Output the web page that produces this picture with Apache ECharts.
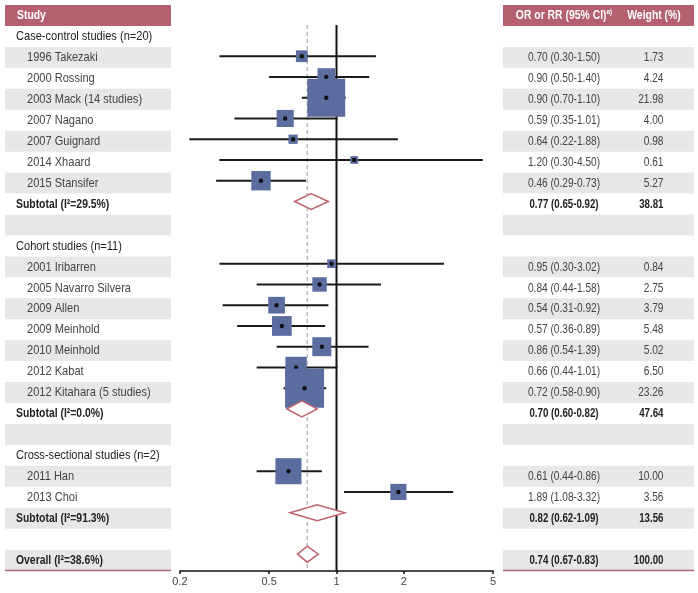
<!DOCTYPE html>
<html><head><meta charset="utf-8">
<script src="https://cdn.jsdelivr.net/npm/echarts@6/dist/echarts.min.js"></script>
<style>html,body{margin:0;padding:0;background:#fff}#c{width:698px;height:593px}</style>
</head><body><div id="c"></div>
<script>
// ---------- data ----------
const headers = ['Study', 'OR or RR (95% CI)', 'a)', 'Weight (%)'];
const rowLabels = ['Case-control studies (n=20)', '1996 Takezaki', '2000 Rossing', '2003 Mack (14 studies)', '2007 Nagano', '2007 Guignard', '2014 Xhaard', '2015 Stansifer', 'Subtotal (I\u00b2=29.5%)', '',
  'Cohort studies (n=11)', '2001 Iribarren', '2005 Navarro Silvera', '2009 Allen', '2009 Meinhold', '2010 Meinhold', '2012 Kabat', '2012 Kitahara (5 studies)', 'Subtotal (I\u00b2=0.0%)', '',
  'Cross-sectional studies (n=2)', '2011 Han', '2013 Choi', 'Subtotal (I\u00b2=91.3%)', '', 'Overall (I\u00b2=38.6%)'];
const rowKinds = ['group', 'study', 'study', 'study', 'study', 'study', 'study', 'study', 'subtotal', 'blank',
  'group', 'study', 'study', 'study', 'study', 'study', 'study', 'study', 'subtotal', 'blank',
  'group', 'study', 'study', 'subtotal', 'blank', 'overall'];
const estimates = [null, 0.70, 0.90, 0.90, 0.59, 0.64, 1.20, 0.46, 0.77, null,
  null, 0.95, 0.84, 0.54, 0.57, 0.86, 0.66, 0.72, 0.70, null,
  null, 0.61, 1.89, 0.82, null, 0.74];
const lowerCI = [null, 0.30, 0.50, 0.70, 0.35, 0.22, 0.30, 0.29, 0.65, null,
  null, 0.30, 0.44, 0.31, 0.36, 0.54, 0.44, 0.58, 0.60, null,
  null, 0.44, 1.08, 0.62, null, 0.67];
const upperCI = [null, 1.50, 1.40, 1.10, 1.01, 1.88, 4.50, 0.73, 0.92, null,
  null, 3.02, 1.58, 0.92, 0.89, 1.39, 1.01, 0.90, 0.82, null,
  null, 0.86, 3.32, 1.09, null, 0.83];
const weights = [null, 1.73, 4.24, 21.98, 4.00, 0.98, 0.61, 5.27, 38.81, null,
  null, 0.84, 2.75, 3.79, 5.48, 5.02, 6.50, 23.26, 47.64, null,
  null, 10.00, 3.56, 13.56, null, 100.00];
const xTicks = [0.2, 0.5, 1, 2, 5];
const nullValue = 1;

// ---------- styling ----------
const FONT = "'Liberation Sans', Arial, sans-serif";
const HEAD = '#b4606f', BAND = '#e7e7e9', SQ = '#5a6d9e', DIA = '#c0636f';
const nRows = rowLabels.length;

const tableData = [[-1]].concat(rowLabels.map((l, i) => [i]));
const forestData = [];
estimates.forEach((e, i) => {
  if (e != null) forestData.push([e, i, lowerCI[i], upperCI[i], weights[i], rowKinds[i] === 'study' ? 0 : 1]);
});
const refData = [[nullValue, 0], [estimates[nRows - 1], 1]];

function bandRect(api, r, color) {
  const a = api.coord([0, r - 0.5]), b = api.coord([1, r + 0.5]);
  return { type: 'rect', shape: { x: a[0], y: a[1], width: b[0] - a[0], height: b[1] - a[1] }, style: { fill: color } };
}
function txt(x, y, text, sx, opt) {
  return { type: 'text', x: x, y: y, scaleX: sx, style: Object.assign({ text: text, font: '13.5px ' + FONT, fill: '#333', verticalAlign: 'middle', align: 'left' }, opt || {}) };
}

function renderLeft(params, api) {
  const r = api.value(0);
  const ch = [];
  const a = api.coord([0, r]);
  if (r < 0) {
    ch.push(bandRect(api, r, HEAD));
    ch.push(txt(a[0] + 12, a[1], headers[0], 0.8, { fill: '#fff', font: 'bold 13px ' + FONT }));
  } else {
    const k = rowKinds[r];
    if (r % 2 === 1) ch.push(bandRect(api, r, BAND));
    if (k === 'group') ch.push(txt(a[0] + 11, a[1], rowLabels[r], 0.82, { fill: '#222' }));
    else if (k === 'study') ch.push(txt(a[0] + 22, a[1], rowLabels[r], 0.82, { fill: '#444' }));
    else if (k === 'subtotal' || k === 'overall') ch.push(txt(a[0] + 11, a[1], rowLabels[r], 0.77, { fill: '#222', font: 'bold 13.5px ' + FONT }));
    if (k === 'overall') {
      const b = api.coord([0, r + 0.5]), c = api.coord([1, r + 0.5]);
      ch.push({ type: 'line', shape: { x1: b[0], y1: b[1], x2: c[0], y2: c[1] }, style: { stroke: HEAD, lineWidth: 1.5 } });
    }
  }
  return { type: 'group', children: ch };
}

function renderRight(params, api) {
  const r = api.value(0);
  const ch = [];
  const a = api.coord([0, r]);
  if (r < 0) {
    ch.push(bandRect(api, r, HEAD));
    ch.push({ type: 'text', x: a[0] + 61, y: a[1], scaleX: 0.8, style: {
      text: '{m|' + headers[1] + '}{s|' + headers[2] + '}',
      align: 'center', verticalAlign: 'middle',
      rich: { m: { font: 'bold 13px ' + FONT, fill: '#fff', lineHeight: 16 },
              s: { font: 'bold 8px ' + FONT, fill: '#fff', verticalAlign: 'top', lineHeight: 16, padding: [0, 0, 6, 0] } } } });
    ch.push(txt(a[0] + 151, a[1], headers[3], 0.8, { fill: '#fff', font: 'bold 13px ' + FONT, align: 'center' }));
  } else {
    const k = rowKinds[r];
    if (r % 2 === 1) ch.push(bandRect(api, r, BAND));
    if (estimates[r] != null) {
      const bold = k !== 'study';
      const f = (bold ? 'bold ' : '') + '13.5px ' + FONT;
      const col = bold ? '#222' : '#444';
      const sx = bold ? 0.72 : 0.75;
      const ci = estimates[r].toFixed(2) + ' (' + lowerCI[r].toFixed(2) + '-' + upperCI[r].toFixed(2) + ')';
      ch.push(txt(a[0] + 61, a[1], ci, sx, { fill: col, font: f, align: 'center' }));
      ch.push(txt(a[0] + 160.5, a[1], weights[r].toFixed(2), sx, { fill: col, font: f, align: 'right' }));
    }
    if (k === 'overall') {
      const b = api.coord([0, r + 0.5]), c = api.coord([1, r + 0.5]);
      ch.push({ type: 'line', shape: { x1: b[0], y1: b[1], x2: c[0], y2: c[1] }, style: { stroke: HEAD, lineWidth: 1.5 } });
    }
  }
  return { type: 'group', children: ch };
}

function renderRef(params, api) {
  const v = api.value(0), dashed = api.value(1) === 1;
  const p1 = api.coord([v, -0.5]), p2 = api.coord([v, 25.81]);
  return { type: 'line', shape: { x1: p1[0], y1: p1[1], x2: p2[0], y2: p2[1] },
    style: dashed ? { stroke: '#aaaaaa', lineWidth: 1.2, lineDash: [4, 3] } : { stroke: '#111', lineWidth: 2 } };
}

function renderForest(params, api) {
  const est = api.value(0), r = api.value(1), lo = api.value(2), hi = api.value(3), w = api.value(4), isSum = api.value(5) === 1;
  const pc = api.coord([est, r]), pl = api.coord([lo, r]), ph = api.coord([hi, r]);
  if (isSum) {
    const h = 8;
    return { type: 'polygon', shape: { points: [[pl[0], pc[1]], [pc[0], pc[1] - h], [ph[0], pc[1]], [pc[0], pc[1] + h]] },
      style: { fill: '#fff', stroke: DIA, lineWidth: 1.5 } };
  }
  const side = 1.6 + 7.75 * Math.sqrt(w);
  return { type: 'group', children: [
    { type: 'line', shape: { x1: pl[0], y1: pl[1], x2: ph[0], y2: ph[1] }, style: { stroke: '#1a1a1a', lineWidth: 2 } },
    { type: 'rect', shape: { x: pc[0] - side / 2, y: pc[1] - side / 2, width: side, height: side }, style: { fill: SQ } },
    { type: 'circle', shape: { cx: pc[0], cy: pc[1], r: 2.2 }, style: { fill: '#111' } }
  ] };
}

const chart = echarts.init(document.getElementById('c'), null, { renderer: 'canvas' });
const hidden = { show: false };
chart.setOption({
  animation: false,
  grid: [
    { left: 180, width: 313, top: 25.1, height: 545.9 },
    { left: 5, width: 166, top: 5, height: 565.6 },
    { left: 503, width: 191, top: 5, height: 565.6 }
  ],
  xAxis: [
    { gridIndex: 0, type: 'log', logBase: 10, min: 0.2, max: 5,
      axisLine: { show: true, onZero: false, lineStyle: { color: '#111', width: 1.5 } },
      axisTick: { show: true, length: 3, customValues: xTicks, lineStyle: { color: '#111', width: 1.5 } },
      axisLabel: { customValues: xTicks, color: '#444', fontSize: 11, fontFamily: "'Liberation Sans Narrow', 'Liberation Sans', sans-serif", margin: 5,
        formatter: v => String(+(+v).toPrecision(3)) },
      splitLine: hidden, minorTick: hidden },
    { gridIndex: 1, type: 'value', min: 0, max: 1, show: false },
    { gridIndex: 2, type: 'value', min: 0, max: 1, show: false }
  ],
  yAxis: [
    { gridIndex: 0, type: 'value', min: -0.5, max: 25.81, inverse: true, show: false },
    { gridIndex: 1, type: 'value', min: -1.5, max: 25.5, inverse: true, show: false },
    { gridIndex: 2, type: 'value', min: -1.5, max: 25.5, inverse: true, show: false }
  ],
  series: [
    { type: 'custom', xAxisIndex: 1, yAxisIndex: 1, data: tableData, renderItem: renderLeft, silent: true, clip: false },
    { type: 'custom', xAxisIndex: 2, yAxisIndex: 2, data: tableData, renderItem: renderRight, silent: true, clip: false },
    { type: 'custom', xAxisIndex: 0, yAxisIndex: 0, data: refData, renderItem: renderRef, silent: true, z: 1, clip: false },
    { type: 'custom', xAxisIndex: 0, yAxisIndex: 0, data: forestData, renderItem: renderForest, silent: true, z: 3, clip: false }
  ]
});
</script></body></html>
